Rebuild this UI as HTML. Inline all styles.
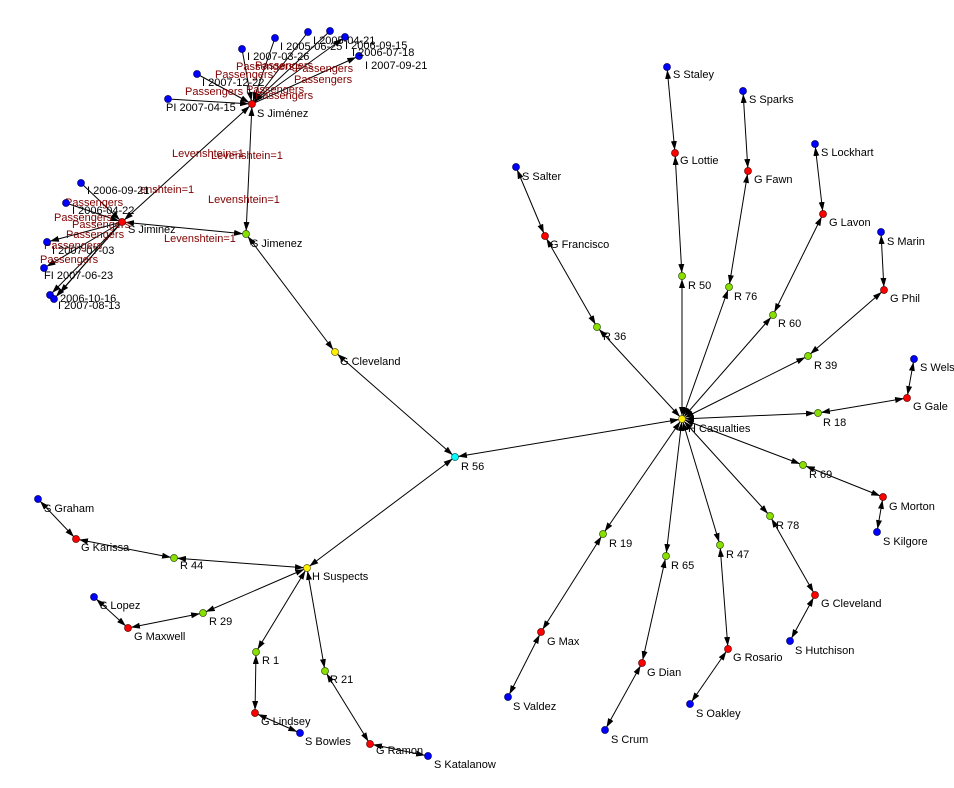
<!DOCTYPE html>
<html><head><meta charset="utf-8"><style>
html,body{margin:0;padding:0;background:#fff;}
svg{display:block;font-family:"Liberation Sans",Arial,sans-serif;font-size:11px;}
.l{stroke:#000;stroke-width:1;fill:none;marker-end:url(#a);marker-start:url(#a);}
.e{stroke:#000;stroke-width:1;fill:none;marker-end:url(#a);}
.p{fill:#800000;}
.b{fill:#0000ff;stroke:#000060;stroke-width:0.7}
.r{fill:#ff0000;stroke:#600000;stroke-width:0.7}
.g{fill:#88e000;stroke:#305000;stroke-width:0.7}
.y{fill:#ffee00;stroke:#606000;stroke-width:0.7}
.c{fill:#00ffff;stroke:#006060;stroke-width:0.7}
</style></head><body>
<svg width="954" height="788" viewBox="0 0 954 788" xmlns="http://www.w3.org/2000/svg">
<defs><marker id="a" markerWidth="10" markerHeight="8" refX="12" refY="3" orient="auto-start-reverse" markerUnits="userSpaceOnUse"><path d="M0,0 L9,3 L0,6 z" fill="#000"/></marker></defs>
<line class="e" x1="168" y1="99" x2="252" y2="104"/>
<line class="e" x1="197" y1="74" x2="252" y2="104"/>
<line class="e" x1="242" y1="49" x2="252" y2="104"/>
<line class="e" x1="275" y1="38" x2="252" y2="104"/>
<line class="e" x1="308" y1="32" x2="252" y2="104"/>
<line class="e" x1="330" y1="31" x2="252" y2="104"/>
<line class="e" x1="252" y1="104" x2="345" y2="37"/>
<line class="e" x1="252" y1="104" x2="359" y2="56"/>
<line class="l" x1="252" y1="104" x2="122" y2="222"/>
<line class="l" x1="252" y1="104" x2="246" y2="234"/>
<line class="l" x1="122" y1="222" x2="246" y2="234"/>
<line class="e" x1="81" y1="183" x2="122" y2="222"/>
<line class="e" x1="66" y1="203" x2="122" y2="222"/>
<line class="e" x1="122" y1="222" x2="47" y2="242"/>
<line class="e" x1="122" y1="222" x2="44" y2="268"/>
<line class="e" x1="122" y1="222" x2="50" y2="295"/>
<line class="e" x1="122" y1="222" x2="54" y2="299"/>
<line class="e" x1="118" y1="226" x2="58" y2="295"/>
<line class="l" x1="246" y1="234" x2="335" y2="352"/>
<line class="l" x1="335" y1="352" x2="455" y2="457"/>
<line class="l" x1="455" y1="457" x2="682" y2="419"/>
<line class="l" x1="455" y1="457" x2="307" y2="568"/>
<line class="l" x1="38" y1="499" x2="76" y2="539"/>
<line class="l" x1="76" y1="539" x2="174" y2="558"/>
<line class="l" x1="174" y1="558" x2="307" y2="568"/>
<line class="l" x1="94" y1="597" x2="128" y2="628"/>
<line class="l" x1="128" y1="628" x2="203" y2="613"/>
<line class="l" x1="203" y1="613" x2="307" y2="568"/>
<line class="l" x1="256" y1="652" x2="307" y2="568"/>
<line class="l" x1="256" y1="652" x2="255" y2="713"/>
<line class="l" x1="255" y1="713" x2="300" y2="733"/>
<line class="l" x1="325" y1="671" x2="307" y2="568"/>
<line class="l" x1="325" y1="671" x2="370" y2="744"/>
<line class="l" x1="370" y1="744" x2="428" y2="756"/>
<line class="l" x1="667" y1="67" x2="675" y2="153"/>
<line class="l" x1="675" y1="153" x2="682" y2="276"/>
<line class="l" x1="682" y1="276" x2="682" y2="419"/>
<line class="l" x1="743" y1="91" x2="748" y2="171"/>
<line class="l" x1="748" y1="171" x2="729" y2="287"/>
<line class="l" x1="729" y1="287" x2="682" y2="419"/>
<line class="l" x1="815" y1="144" x2="823" y2="214"/>
<line class="l" x1="823" y1="214" x2="773" y2="315"/>
<line class="l" x1="773" y1="315" x2="682" y2="419"/>
<line class="l" x1="881" y1="232" x2="884" y2="290"/>
<line class="l" x1="884" y1="290" x2="808" y2="356"/>
<line class="l" x1="808" y1="356" x2="682" y2="419"/>
<line class="l" x1="914" y1="359" x2="907" y2="398"/>
<line class="l" x1="907" y1="398" x2="818" y2="413"/>
<line class="l" x1="818" y1="413" x2="682" y2="419"/>
<line class="l" x1="803" y1="465" x2="682" y2="419"/>
<line class="l" x1="803" y1="465" x2="883" y2="497"/>
<line class="l" x1="883" y1="497" x2="877" y2="532"/>
<line class="l" x1="770" y1="516" x2="682" y2="419"/>
<line class="l" x1="770" y1="516" x2="815" y2="595"/>
<line class="l" x1="815" y1="595" x2="790" y2="641"/>
<line class="l" x1="720" y1="545" x2="682" y2="419"/>
<line class="l" x1="720" y1="545" x2="728" y2="649"/>
<line class="l" x1="728" y1="649" x2="690" y2="704"/>
<line class="l" x1="666" y1="556" x2="682" y2="419"/>
<line class="l" x1="666" y1="556" x2="642" y2="663"/>
<line class="l" x1="642" y1="663" x2="605" y2="730"/>
<line class="l" x1="603" y1="534" x2="682" y2="419"/>
<line class="l" x1="603" y1="534" x2="541" y2="632"/>
<line class="l" x1="541" y1="632" x2="508" y2="697"/>
<line class="l" x1="516" y1="167" x2="545" y2="236"/>
<line class="l" x1="545" y1="236" x2="597" y2="327"/>
<line class="l" x1="597" y1="327" x2="682" y2="419"/>
<g class="p">
<text x="172" y="157">Levenshtein=1</text>
<text x="211" y="159">Levenshtein=1</text>
<text x="208" y="203">Levenshtein=1</text>
<text x="164" y="242">Levenshtein=1</text>
<text x="140" y="193">enshtein=1</text>
<text x="185" y="95">Passengers</text>
<text x="215" y="78">Passengers</text>
<text x="236" y="70">Passengers</text>
<text x="255" y="69">Passengers</text>
<text x="295" y="72">Passengers</text>
<text x="294" y="83">Passengers</text>
<text x="246" y="93">Passengers</text>
<text x="255" y="99">Passengers</text>
<text x="65" y="206">Passengers</text>
<text x="54" y="221">Passengers</text>
<text x="72" y="228">Passengers</text>
<text x="66" y="238">Passengers</text>
<text x="44" y="249">Passengers</text>
<text x="40" y="263">Passengers</text>
</g>
<g>
<circle class="b" cx="168" cy="99" r="3.5"/><circle class="b" cx="197" cy="74" r="3.5"/>
<circle class="b" cx="242" cy="49" r="3.5"/><circle class="b" cx="275" cy="38" r="3.5"/>
<circle class="b" cx="308" cy="32" r="3.5"/><circle class="b" cx="330" cy="31" r="3.5"/>
<circle class="b" cx="345" cy="37" r="3.5"/><circle class="b" cx="359" cy="56" r="3.5"/>
<circle class="r" cx="252" cy="104" r="3.5"/>
<circle class="b" cx="81" cy="183" r="3.5"/><circle class="b" cx="66" cy="203" r="3.5"/>
<circle class="b" cx="47" cy="242" r="3.5"/><circle class="b" cx="44" cy="268" r="3.5"/>
<circle class="b" cx="50" cy="295" r="3.5"/><circle class="b" cx="54" cy="299" r="3.5"/>
<circle class="r" cx="122" cy="222" r="3.5"/>
<circle class="g" cx="246" cy="234" r="3.5"/>
<circle class="y" cx="335" cy="352" r="3.5"/>
<circle class="c" cx="455" cy="457" r="3.5"/>
<circle class="y" cx="307" cy="568" r="3.5"/>
<circle class="y" cx="682" cy="419" r="3.5"/>
<circle class="b" cx="38" cy="499" r="3.5"/><circle class="r" cx="76" cy="539" r="3.5"/><circle class="g" cx="174" cy="558" r="3.5"/>
<circle class="b" cx="94" cy="597" r="3.5"/><circle class="r" cx="128" cy="628" r="3.5"/><circle class="g" cx="203" cy="613" r="3.5"/>
<circle class="g" cx="256" cy="652" r="3.5"/><circle class="r" cx="255" cy="713" r="3.5"/><circle class="b" cx="300" cy="733" r="3.5"/>
<circle class="g" cx="325" cy="671" r="3.5"/><circle class="r" cx="370" cy="744" r="3.5"/><circle class="b" cx="428" cy="756" r="3.5"/>
<circle class="b" cx="667" cy="67" r="3.5"/><circle class="r" cx="675" cy="153" r="3.5"/><circle class="g" cx="682" cy="276" r="3.5"/>
<circle class="b" cx="743" cy="91" r="3.5"/><circle class="r" cx="748" cy="171" r="3.5"/><circle class="g" cx="729" cy="287" r="3.5"/>
<circle class="b" cx="815" cy="144" r="3.5"/><circle class="r" cx="823" cy="214" r="3.5"/><circle class="g" cx="773" cy="315" r="3.5"/>
<circle class="b" cx="881" cy="232" r="3.5"/><circle class="r" cx="884" cy="290" r="3.5"/><circle class="g" cx="808" cy="356" r="3.5"/>
<circle class="b" cx="914" cy="359" r="3.5"/><circle class="r" cx="907" cy="398" r="3.5"/><circle class="g" cx="818" cy="413" r="3.5"/>
<circle class="g" cx="803" cy="465" r="3.5"/><circle class="r" cx="883" cy="497" r="3.5"/><circle class="b" cx="877" cy="532" r="3.5"/>
<circle class="g" cx="770" cy="516" r="3.5"/><circle class="r" cx="815" cy="595" r="3.5"/><circle class="b" cx="790" cy="641" r="3.5"/>
<circle class="g" cx="720" cy="545" r="3.5"/><circle class="r" cx="728" cy="649" r="3.5"/><circle class="b" cx="690" cy="704" r="3.5"/>
<circle class="g" cx="666" cy="556" r="3.5"/><circle class="r" cx="642" cy="663" r="3.5"/><circle class="b" cx="605" cy="730" r="3.5"/>
<circle class="g" cx="603" cy="534" r="3.5"/><circle class="r" cx="541" cy="632" r="3.5"/><circle class="b" cx="508" cy="697" r="3.5"/>
<circle class="b" cx="516" cy="167" r="3.5"/><circle class="r" cx="545" cy="236" r="3.5"/><circle class="g" cx="597" cy="327" r="3.5"/>
</g>
<g fill="#000">
<text x="166" y="111">PI 2007-04-15</text>
<text x="202" y="86">I 2007-12-22</text>
<text x="247" y="60">I 2007-03-26</text>
<text x="280" y="50">I 2005-06-25</text>
<text x="313" y="44">I 2005-04-21</text>
<text x="352" y="56">I 2006-07-18</text>
<text x="345" y="49">I 2006-09-15</text>
<text x="365" y="69">I 2007-09-21</text>
<text x="257" y="117">S Jiménez</text>
<text x="87" y="194">I 2006-09-21</text>
<text x="72" y="214">I 2006-04-22</text>
<text x="128" y="233">S Jiminez</text>
<text x="52" y="254">I 2007-07-03</text>
<text x="44" y="279">FI 2007-06-23</text>
<text x="60" y="302">2006-10-16</text>
<text x="58" y="309">I 2007-08-13</text>
<text x="251" y="247">S Jimenez</text>
<text x="340" y="365">G Cleveland</text>
<text x="461" y="470">R 56</text>
<text x="312" y="580">H Suspects</text>
<text x="688" y="432">H Casualties</text>
<text x="44" y="512">S Graham</text><text x="81" y="551">G Karissa</text><text x="180" y="569">R 44</text>
<text x="100" y="609">S Lopez</text><text x="134" y="640">G Maxwell</text><text x="209" y="625">R 29</text>
<text x="262" y="664">R 1</text><text x="261" y="725">G Lindsey</text><text x="305" y="745">S Bowles</text>
<text x="330" y="683">R 21</text><text x="376" y="754">G Ramon</text><text x="434" y="768">S Katalanow</text>
<text x="673" y="78">S Staley</text><text x="680" y="164">G Lottie</text><text x="688" y="289">R 50</text>
<text x="749" y="103">S Sparks</text><text x="754" y="183">G Fawn</text><text x="734" y="300">R 76</text>
<text x="821" y="156">S Lockhart</text><text x="829" y="226">G Lavon</text><text x="778" y="327">R 60</text>
<text x="887" y="245">S Marin</text><text x="890" y="302">G Phil</text><text x="814" y="369">R 39</text>
<text x="920" y="371">S Wels</text><text x="913" y="410">G Gale</text><text x="823" y="426">R 18</text>
<text x="809" y="478">R 69</text><text x="889" y="510">G Morton</text><text x="883" y="545">S Kilgore</text>
<text x="776" y="529">R 78</text><text x="821" y="607">G Cleveland</text><text x="795" y="654">S Hutchison</text>
<text x="726" y="558">R 47</text><text x="733" y="661">G Rosario</text><text x="696" y="717">S Oakley</text>
<text x="671" y="569">R 65</text><text x="647" y="676">G Dian</text><text x="611" y="743">S Crum</text>
<text x="609" y="547">R 19</text><text x="547" y="645">G Max</text><text x="513" y="710">S Valdez</text>
<text x="522" y="180">S Salter</text><text x="550" y="248">G Francisco</text><text x="603" y="340">R 36</text>
</g>
</svg>
</body></html>
